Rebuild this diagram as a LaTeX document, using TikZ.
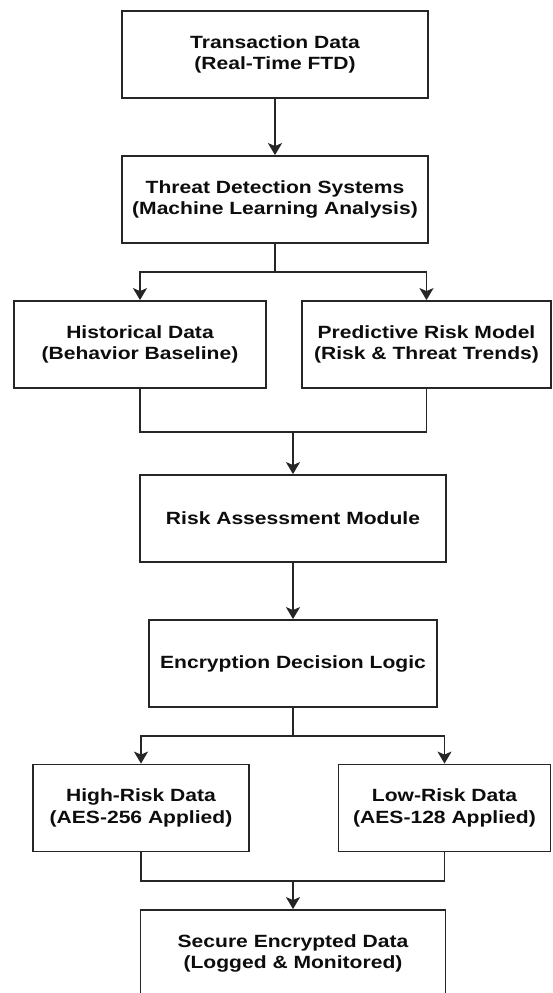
\documentclass[tikz,border=0pt]{standalone}
\usepackage{fontspec}
\newfontfamily\boxfont[FakeStretch=1.19]{Liberation Sans}
\usetikzlibrary{arrows.meta}
\begin{document}
\begin{tikzpicture}[x=1pt,y=-1pt,
  box/.style={draw=black!85, line width=1.8pt, rectangle, minimum height=87pt,
    align=center, inner sep=0pt, text=black!95,
    font=\boxfont\bfseries\fontsize{17.7pt}{21.7pt}\selectfont},
  link/.style={draw=black!85, line width=1.8pt},
  arr/.style={link, -{Stealth[length=12pt,width=14pt,inset=3pt]}}]
\clip (0,0) rectangle (552,993);
\fill[white] (0,0) rectangle (552,993);
\node[box, minimum width=306pt] (n1) at (275,54.5) {Transaction Data\\(Real-Time FTD)};
\node[box, minimum width=306pt] (n2) at (275,199.5) {Threat Detection Systems\\(Machine Learning Analysis)};
\node[box, minimum width=252pt] (n3) at (140,344.5) {Historical Data\\(Behavior Baseline)};
\node[box, minimum width=249pt] (n4) at (426.5,344.5) {Predictive Risk Model\\(Risk \& Threat Trends)};
\node[box, minimum width=306pt] (n5) at (293,518.5) {Risk Assessment Module};
\node[box, minimum width=288pt] (n6) at (293,663.5) {Encryption Decision Logic};
\node[box, minimum width=216pt] (n7) at (141,808) {High-Risk Data\\(AES-256 Applied)};
\node[box, minimum width=212pt] (n8) at (444.5,808) {Low-Risk Data\\(AES-128 Applied)};
\node[box, minimum width=305pt] (n9) at (293,953.5) {Secure Encrypted Data\\(Logged \& Monitored)};
\coordinate (b1) at (275,272);
\coordinate (m1) at (293,432);
\coordinate (b2) at (293,736);
\coordinate (m2) at (293,881);
\draw[arr] (n1) -- (n2);
\draw[link] (n2.south) -- (b1);
\draw[arr] (b1) -| (n3.north);
\draw[arr] (b1) -| (n4.north);
\draw[link] (n3.south) |- (m1) -| (n4.south);
\draw[arr] (m1) -- (n5.north);
\draw[arr] (n5) -- (n6);
\draw[link] (n6.south) -- (b2);
\draw[arr] (b2) -| (n7.north);
\draw[arr] (b2) -| (n8.north);
\draw[link] (n7.south) |- (m2) -| (n8.south);
\draw[arr] (m2) -- (n9.north);
\end{tikzpicture}
\end{document}
